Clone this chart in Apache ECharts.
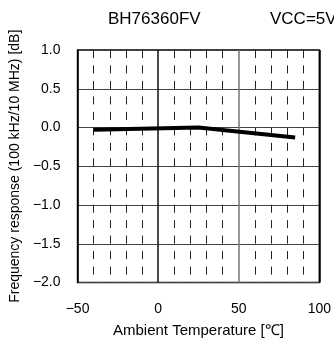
<!DOCTYPE html>
<html>
<head>
<meta charset="utf-8">
<script src="https://cdn.jsdelivr.net/npm/echarts@6/dist/echarts.min.js"></script>
<style>
  html, body { margin: 0; padding: 0; background: #fff; }
  #chart { width: 334px; height: 352px; }
</style>
</head>
<body>
<div id="chart"></div>
<script>
// 周囲温度 vs 周波数特性
var temps = [-40, 25, 85];
var response = [-0.03, 0.0, -0.13];
var xTicks = [-50, 0, 50, 100];
var yTicks = [-2.0, -1.5, -1.0, -0.5, 0.0, 0.5, 1.0];

var myChart = echarts.init(document.getElementById('chart'));
var font = 'Liberation Sans, Arial, sans-serif';

function fmt(v) {
  var s = Math.abs(v).toFixed(1);
  return v < 0 ? '\u2212' + s : s;
}

var option = {
  animation: false,
  title: [
    {
      text: 'BH76360FV',
      left: 108, top: 11, padding: 0,
      textStyle: {fontFamily: font, fontSize: 17, fontWeight: 'normal', color: '#000'}
    },
    {
      text: 'VCC=5V',
      left: 270, top: 11, padding: 0,
      textStyle: {fontFamily: font, fontSize: 17, fontWeight: 'normal', color: '#000'}
    }
  ],
  grid: {
    left: 77.5,
    right: 11.5,
    top: 50,
    bottom: 69.5,
    show: true,
    borderColor: '#000',
    borderWidth: 1.5
  },
  xAxis: {
    type: 'value',
    min: xTicks[0],
    max: xTicks[xTicks.length - 1],
    interval: 50,
    name: 'Ambient Temperature [\u2103]',
    nameLocation: 'middle',
    nameGap: 41,
    nameTextStyle: {fontFamily: font, fontSize: 15, color: '#000'},
    axisLine: {show: false},
    axisTick: {show: false},
    axisLabel: {
      margin: 20,
      fontFamily: font, fontSize: 14, color: '#000',
      formatter: function (v) { return v < 0 ? '\u2212' + Math.abs(v) : String(v); }
    },
    splitLine: {
      show: true,
      lineStyle: {color: ['#000', '#111', '#777', '#000'], width: 1.5}
    },
    minorTick: {show: false, splitNumber: 5},
    minorSplitLine: {
      show: true,
      lineStyle: {color: '#222', width: 1, type: [8, 7.47]}
    }
  },
  yAxis: {
    type: 'value',
    min: yTicks[0],
    max: yTicks[yTicks.length - 1],
    interval: 0.5,
    name: 'Frequency response (100 kHz/10 MHz) [dB]',
    nameLocation: 'middle',
    nameGap: 50,
    nameTextStyle: {fontFamily: font, fontSize: 14, color: '#000'},
    axisLine: {show: false},
    axisTick: {show: false},
    axisLabel: {
      margin: 17,
      fontFamily: font, fontSize: 14, color: '#000',
      formatter: fmt
    },
    splitLine: {
      show: true,
      lineStyle: {color: '#444', width: 1}
    }
  },
  series: [
    {
      type: 'line',
      data: temps.map(function (t, i) { return [t, response[i]]; }),
      showSymbol: false,
      lineStyle: {color: '#000', width: 4},
      z: 5
    }
  ]
};
myChart.setOption(option);
</script>
</body>
</html>
